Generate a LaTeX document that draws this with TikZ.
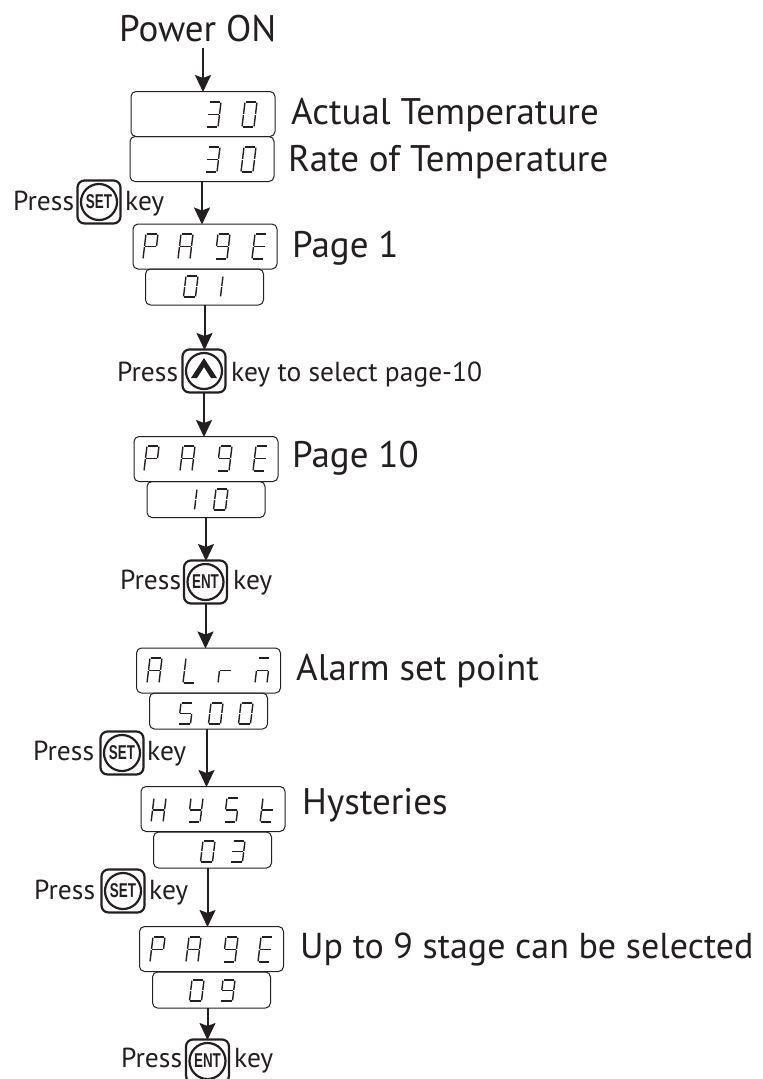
\documentclass[tikz,border=0pt]{standalone}
\usepackage{fontspec}
\setmainfont{PT Sans}
\newfontfamily\keyfont{Liberation Sans}
\usetikzlibrary{positioning,arrows.meta}
\definecolor{inkblack}{HTML}{231F20}
\tikzset{
  panel/.style={draw=inkblack,line width=1pt,rounded corners=5pt,minimum width=144pt,minimum height=45pt,inner sep=0pt,outer sep=0pt},
  subpanel/.style={panel,minimum width=118pt,minimum height=36pt},
  bigtext/.style={text=inkblack,font=\fontsize{37}{40}\selectfont,inner sep=0pt,anchor=base west},
  smalltext/.style={text=inkblack,font=\fontsize{27.5}{30}\selectfont,inner sep=0pt,anchor=base west},
  flow/.style={draw=inkblack,line width=2pt,-{Stealth[length=17pt,width=16pt,inset=3pt]},shorten >=-0.5pt},
  keybox/.style={draw=inkblack,line width=2.2pt,rounded corners=7pt,minimum size=43pt,inner sep=0pt,outer sep=0pt},
  keyring/.style={draw=inkblack,line width=2.2pt,circle,minimum size=36pt,inner sep=0pt,text=inkblack,font=\keyfont\bfseries\fontsize{20}{20}\selectfont},
  lcdbar/.style={draw=inkblack,line width=1.8pt},
  lcdpost/.style={draw=inkblack,line width=1.4pt}
}
% seven segments, top left corner at 0,0
\def\lcdw{12}
\newcommand{\sega}{\draw[lcdbar] (0.7,0) -- (\lcdw-0.7,0);}
\newcommand{\segb}{\draw[lcdpost] (\lcdw,0.7) -- (\lcdw,\lcdm-0.7);}
\newcommand{\segc}{\draw[lcdpost] (\lcdw,\lcdm+0.7) -- (\lcdw,\lcdh-0.7);}
\newcommand{\segd}{\draw[lcdbar] (0.7,\lcdh) -- (\lcdw-0.7,\lcdh);}
\newcommand{\sege}{\draw[lcdpost] (0,\lcdm+0.7) -- (0,\lcdh-0.7);}
\newcommand{\segf}{\draw[lcdpost] (0,0.7) -- (0,\lcdm-0.7);}
\newcommand{\segg}{\draw[lcdbar] (0.7,\lcdm) -- (\lcdw-0.7,\lcdm);}
\newcommand{\lcdchar}[4]{%
  \begin{scope}[shift={(#1+3,#2)},xslant=0.12]
    \def\lcdh{#3}\pgfmathsetmacro{\lcdm}{#3/2}
    \foreach \s in {#4} {\csname seg\s\endcsname}
  \end{scope}}
\newcommand{\keybutton}[3]{%
  \node[keybox] (#1) at (#2) {};
  \node[keyring] (#1ring) at (#1) {\scalebox{0.67}[1]{#3}};}
\begin{document}
\begin{tikzpicture}[x=1pt,y=-1pt]
  \useasboundingbox (0,0) rectangle (763,1079);
  % panels
  \node[panel] (actual) at (203,114) {};
  \node[panel] (rate) at (202,159) {};
  \node[panel] (pageone) at (205,246.5) {};
  \node[subpanel] (subone) at (204.5,287) {};
  \node[panel] (pageten) at (206,459) {};
  \node[subpanel] (subten) at (206,499.5) {};
  \node[panel] (alarm) at (208.5,670.5) {};
  \node[subpanel] (subalarm) at (208.5,711) {};
  \node[panel] (hyst) at (213,809) {};
  \node[subpanel] (subhyst) at (212.5,850) {};
  \node[panel] (pagenine) at (211.5,949) {};
  \node[subpanel] (subnine) at (211.5,990) {};
  % keys
  \keybutton{setone}{99,202}{SET}
  \keybutton{upkey}{204,371}{}
  \keybutton{entone}{205.5,582}{ENT}
  \keybutton{settwo}{122,753}{SET}
  \keybutton{setthree}{123,891}{SET}
  \keybutton{enttwo}{207.5,1061}{ENT}
  \fill[inkblack] (204,358) -- (217,378) -- (211,378) -- (204,367) -- (197,378) -- (191,378) -- cycle;
  % texts
  \node[bigtext] (power) at (119,41) {Power ON};
  \node[bigtext] (actualtext) at (291,124) {Actual Temperature};
  \node[bigtext] (ratetext) at (288,171) {Rate of Temperature};
  \node[bigtext] (pageonetext) at (292,257) {Page 1};
  \node[bigtext] (pagetentext) at (292,467) {Page 10};
  \node[bigtext] (alarmtext) at (296,680) {Alarm set point};
  \node[bigtext] (hysttext) at (302,814) {Hysteries};
  \node[bigtext,font=\fontsize{36}{40}\selectfont] (ninetext) at (300,958) {Up to 9 stage can be selected};
  \node[smalltext] (pressa) at (13,210) {Press};
  \node[smalltext] (keya) at (125,210) {key};
  \node[smalltext] (pressb) at (117,381) {Press};
  \node[smalltext] (keyb) at (231,381) {key to select page-10};
  \node[smalltext] (pressc) at (120,589) {Press};
  \node[smalltext] (keyc) at (233,589) {key};
  \node[smalltext] (pressd) at (33,760) {Press};
  \node[smalltext] (keyd) at (147,760) {key};
  \node[smalltext] (presse) at (34,899) {Press};
  \node[smalltext] (keye) at (149,899) {key};
  \node[smalltext] (pressf) at (121,1067) {Press};
  \node[smalltext] (keyf) at (234,1067) {key};
  % flow
  \draw[flow] ([yshift=-6pt]power.south -| actual.north) -- (actual.north);
  \draw[flow] (rate.south) -- (rate.south |- pageone.north);
  \draw[flow] (subone.south) -- (subone.south |- upkey.north);
  \draw[flow] (upkey.south) -- (upkey.south |- pageten.north);
  \draw[flow] (subten.south) -- (subten.south |- entone.north);
  \draw[flow] (entone.south) -- (entone.south |- alarm.north);
  \draw[flow] ([xshift=-2pt]subalarm.south) -- ([xshift=-2pt]subalarm.south |- hyst.north);
  \draw[flow] ([xshift=-5pt]subhyst.south) -- ([xshift=-5pt]subhyst.south |- pagenine.north);
  \draw[flow] ([xshift=-4pt]subnine.south) -- ([xshift=-4pt]subnine.south |- enttwo.north);
  % digits
  \lcdchar{206}{102}{25}{a,b,c,d,g}
  \lcdchar{242}{102}{25}{a,b,c,d,e,f}
  \lcdchar{205}{147}{25}{a,b,c,d,g}
  \lcdchar{241}{147}{25}{a,b,c,d,e,f}
  \lcdchar{143}{234}{25}{a,b,e,f,g}
  \lcdchar{178}{234}{25}{a,b,c,e,f,g}
  \lcdchar{215}{234}{25}{a,b,c,d,f,g}
  \lcdchar{252}{234}{25}{a,d,e,f,g}
  \lcdchar{183}{276}{21}{a,b,c,d,e,f}
  \lcdchar{220}{276}{21}{e,f}
  \lcdchar{144}{446}{25}{a,b,e,f,g}
  \lcdchar{180}{446}{25}{a,b,c,e,f,g}
  \lcdchar{217}{446}{25}{a,b,c,d,f,g}
  \lcdchar{253}{446}{25}{a,d,e,f,g}
  \lcdchar{194}{489}{21}{e,f}
  \lcdchar{213}{489}{21}{a,b,c,d,e,f}
  \lcdchar{147}{658}{25}{a,b,c,e,f,g}
  \lcdchar{183}{658}{25}{d,e,f}
  \lcdchar{218}{658}{25}{e,g}
  \lcdchar{255}{658}{25}{a,c,e,g}
  \lcdchar{178}{703}{21}{a,c,d,f,g}
  \lcdchar{208}{703}{21}{a,b,c,d,e,f}
  \lcdchar{238}{703}{21}{a,b,c,d,e,f}
  \lcdchar{151}{798}{24}{b,c,e,f,g}
  \lcdchar{188}{798}{24}{b,c,d,f,g}
  \lcdchar{224}{798}{24}{a,c,d,f,g}
  \lcdchar{260}{798}{24}{d,e,f,g}
  \lcdchar{200}{841}{21}{a,b,c,d,e,f}
  \lcdchar{230}{841}{21}{a,b,c,d,g}
  \lcdchar{150}{937}{25}{a,b,e,f,g}
  \lcdchar{186}{937}{25}{a,b,c,e,f,g}
  \lcdchar{223}{937}{25}{a,b,c,d,f,g}
  \lcdchar{258}{937}{25}{a,d,e,f,g}
  \lcdchar{189}{980}{21}{a,b,c,d,e,f}
  \lcdchar{220}{980}{21}{a,b,c,d,f,g}
\end{tikzpicture}
\end{document}
